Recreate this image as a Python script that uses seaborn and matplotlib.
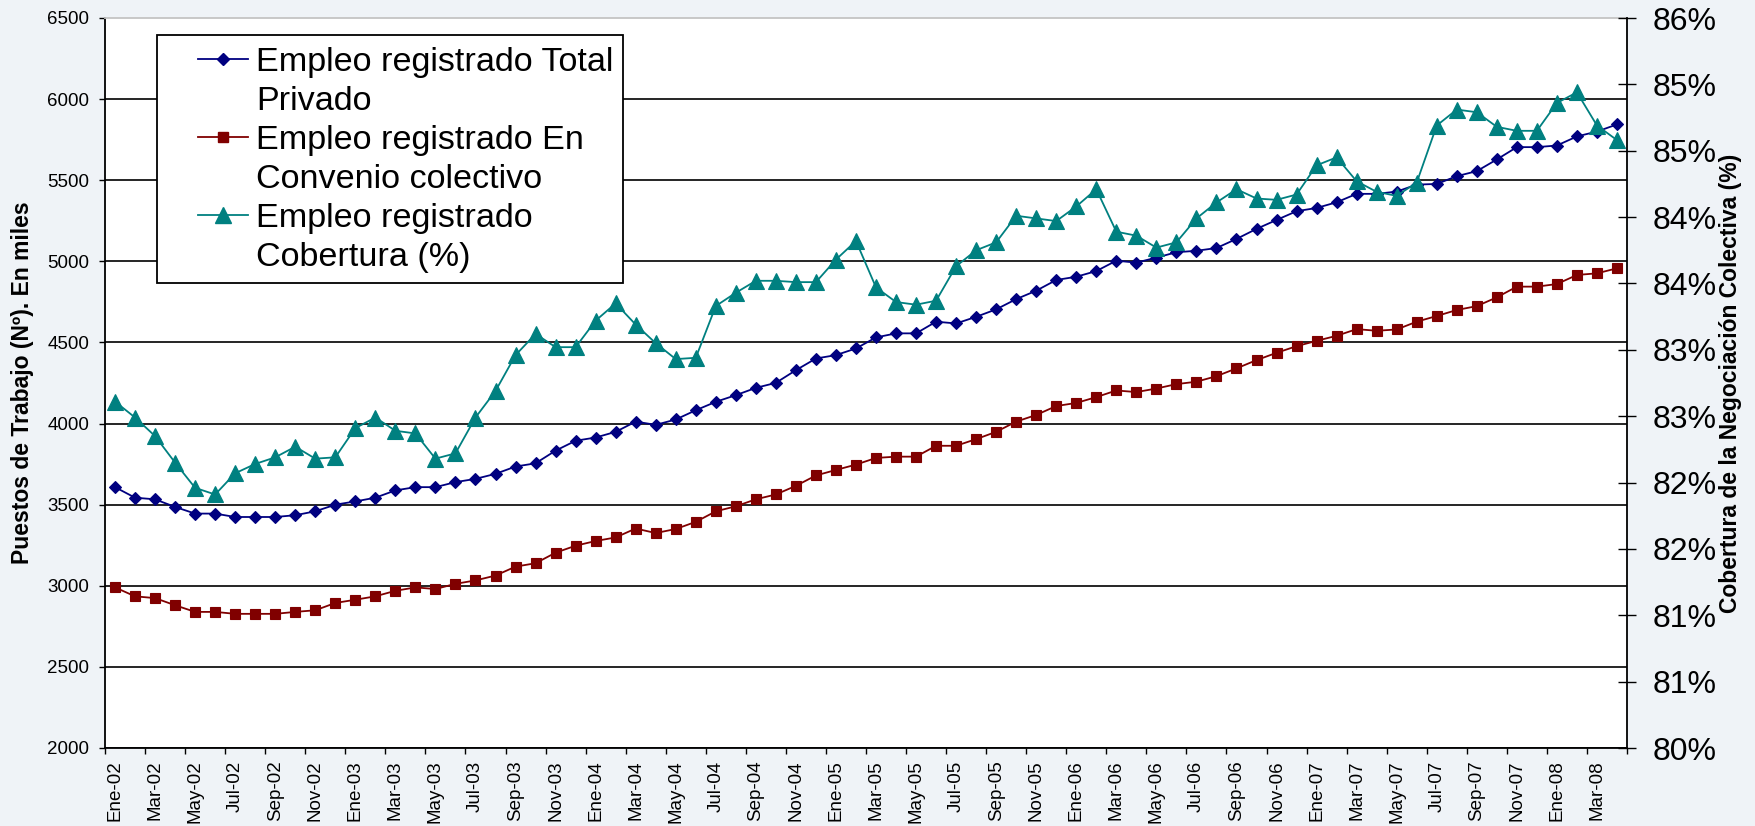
import numpy as np
import pandas as pd
import matplotlib
matplotlib.use("Agg")
import matplotlib.pyplot as plt
import matplotlib.ticker as mticker
from matplotlib.lines import Line2D
from matplotlib.patches import Rectangle
import seaborn as sns

MESES = ["Ene", "Feb", "Mar", "Abr", "May", "Jun", "Jul", "Ago", "Sep", "Oct", "Nov", "Dic"]
PERIODOS = [f"{m}-{a:02d}" for a in range(2, 9) for m in MESES][:76]

# Puestos de trabajo, en miles
TOTAL_PRIVADO = [3608, 3543, 3533, 3486, 3445, 3445, 3424, 3424, 3424, 3435, 3459, 3500,
                 3520, 3543, 3588, 3608, 3608, 3639, 3659, 3690, 3735, 3755, 3833, 3894,
                 3914, 3949, 4012, 3992, 4025, 4082, 4134, 4175, 4220, 4251, 4329, 4401,
                 4422, 4463, 4531, 4556, 4556, 4628, 4617, 4658, 4704, 4767, 4819, 4885,
                 4905, 4940, 5004, 4992, 5023, 5056, 5065, 5082, 5138, 5200, 5255, 5309,
                 5329, 5364, 5416, 5416, 5430, 5473, 5477, 5525, 5556, 5628, 5704, 5704,
                 5714, 5770, 5800, 5844]
CONVENIO = [2990, 2935, 2924, 2880, 2839, 2839, 2827, 2827, 2827, 2839, 2849, 2894,
            2914, 2935, 2969, 2990, 2980, 3012, 3033, 3063, 3118, 3139, 3204, 3247,
            3276, 3298, 3353, 3325, 3350, 3394, 3459, 3490, 3533, 3563, 3616, 3680,
            3714, 3747, 3788, 3796, 3796, 3863, 3863, 3904, 3949, 4012, 4053, 4108,
            4127, 4163, 4204, 4194, 4216, 4243, 4258, 4292, 4340, 4391, 4436, 4477,
            4510, 4541, 4582, 4572, 4580, 4628, 4663, 4700, 4724, 4778, 4844, 4844,
            4860, 4916, 4926, 4957]
# Cobertura (%), eje derecho
COBERTURA = [82.61, 82.49, 82.35, 82.15, 81.96, 81.91, 82.07, 82.14, 82.19, 82.27, 82.18, 82.19,
             82.41, 82.49, 82.39, 82.37, 82.18, 82.22, 82.49, 82.69, 82.96, 83.12, 83.02, 83.02,
             83.22, 83.35, 83.19, 83.05, 82.93, 82.94, 83.33, 83.43, 83.52, 83.52, 83.51, 83.51,
             83.68, 83.82, 83.47, 83.36, 83.34, 83.37, 83.63, 83.75, 83.81, 84.01, 83.99, 83.97,
             84.08, 84.21, 83.89, 83.86, 83.77, 83.81, 83.99, 84.11, 84.21, 84.14, 84.13, 84.17,
             84.39, 84.45, 84.27, 84.19, 84.16, 84.26, 84.69, 84.81, 84.79, 84.68, 84.65, 84.65,
             84.86, 84.94, 84.69, 84.58]

LABELS = ["Empleo registrado Total", "Privado",
          "Empleo registrado En", "Convenio colectivo",
          "Empleo registrado", "Cobertura (%)"]

NAVY = "#000080"
MAROON = "#800000"
TEAL = "#008080"
BG = "#EFF3F7"

df = pd.DataFrame({"pos": np.arange(len(PERIODOS)), "periodo": PERIODOS,
                   "total": TOTAL_PRIVADO, "convenio": CONVENIO, "cobertura": COBERTURA})

plt.rcParams["font.family"] = ["Liberation Sans", "DejaVu Sans"]

W, H = 1756, 826
fig = plt.figure(figsize=(W / 100, H / 100), dpi=100, facecolor=BG)
ax = fig.add_axes([105 / W, 1 - 748 / H, 1522 / W, 730 / H])
ax.set_facecolor("white")
ax2 = ax.twinx()

sns.lineplot(data=df, x="pos", y="total", ax=ax, color=NAVY, lw=1.3, marker="D", ms=5.8,
             mec=NAVY, mew=0.8, zorder=3)
sns.lineplot(data=df, x="pos", y="convenio", ax=ax, color=MAROON, lw=1.3, marker="s", ms=6.6,
             mec=MAROON, mew=0.8, zorder=3)
sns.lineplot(data=df, x="pos", y="cobertura", ax=ax2, color=TEAL, lw=1.3, marker="^", ms=11,
             mec=TEAL, mew=0.8, zorder=3)

# left axis
ax.set_xlim(-0.5, len(PERIODOS) - 0.5)
ax.set_ylim(2000, 6500)
ax.set_yticks(np.arange(2000, 6501, 500))
ax.yaxis.grid(True, color="black", lw=1.2)
ax.xaxis.grid(False)
ax.get_ygridlines()[-1].set_visible(False)
ax.tick_params(axis="y", direction="out", length=4.5, width=1, labelsize=13.5, pad=7)
ax.set_ylabel("Puestos de Trabajo (Nº). En miles", fontsize=16.5, fontweight="bold")
ax.yaxis.set_label_coords(-0.0464, 0.5)

# x axis: ticks between pairs of months, labels on the first month
ax.set_xticks(np.arange(-0.5, len(PERIODOS), 2))
ax.set_xticklabels([])
ax.set_xticks(np.arange(0, len(PERIODOS), 2), minor=True)
ax.set_xticklabels(PERIODOS[::2], minor=True, rotation=90, fontsize=13.5)
ax.tick_params(axis="x", which="major", direction="out", length=4, width=1)
ax.tick_params(axis="x", which="minor", length=0, pad=9)
ax.set_xlabel("")

# right axis
ax2.set_ylim(80, 85.5)
ax2.set_yticks(np.arange(80, 85.51, 0.5))
ax2.yaxis.set_major_formatter(mticker.FuncFormatter(lambda v, _: f"{int(np.floor(v + 0.5 + 1e-9))}%"))
ax2.tick_params(axis="y", direction="inout", length=13, width=1, labelsize=23, pad=12)
ax2.set_ylabel("Cobertura de la Negociación Colectiva (%)", fontsize=16.5, fontweight="bold",
               rotation=90)
ax2.yaxis.set_label_coords(1.0605, 0.5)
ax2.grid(False)

for a in (ax, ax2):
    for s in a.spines.values():
        s.set_visible(False)
ax.spines["left"].set_visible(True)
ax.spines["bottom"].set_visible(True)
ax.spines["top"].set_visible(True)
ax.spines["left"].set_linewidth(1.3)
ax.spines["bottom"].set_linewidth(1.3)
ax.spines["top"].set_color("#C4C4C4")
ax.spines["top"].set_linewidth(1.3)
ax2.spines["right"].set_visible(True)
ax2.spines["right"].set_linewidth(1.3)

# legend with Excel-like box
fig.add_artist(Rectangle((157 / W, 1 - 283 / H), 466 / W, 248 / H, transform=fig.transFigure,
                         facecolor="white", edgecolor="black", lw=1.3, zorder=4))
blank = Line2D([], [], linestyle="none")
handles = [Line2D([], [], color=NAVY, lw=1.3, marker="D", ms=5.8, mec=NAVY), blank,
           Line2D([], [], color=MAROON, lw=1.3, marker="s", ms=6.6, mec=MAROON), blank,
           Line2D([], [], color=TEAL, lw=1.3, marker="^", ms=11, mec=TEAL), blank]
leg = fig.legend(handles, LABELS, loc="upper left", bbox_to_anchor=(198 / W, 1 - 47 / H),
                 bbox_transform=fig.transFigure, frameon=False, fontsize=24.6, handlelength=1.45,
                 handletextpad=0.25, labelspacing=0.235, borderpad=0, borderaxespad=0)
leg.set_zorder(5)

fig.savefig("out.png", dpi=100, facecolor=BG)
